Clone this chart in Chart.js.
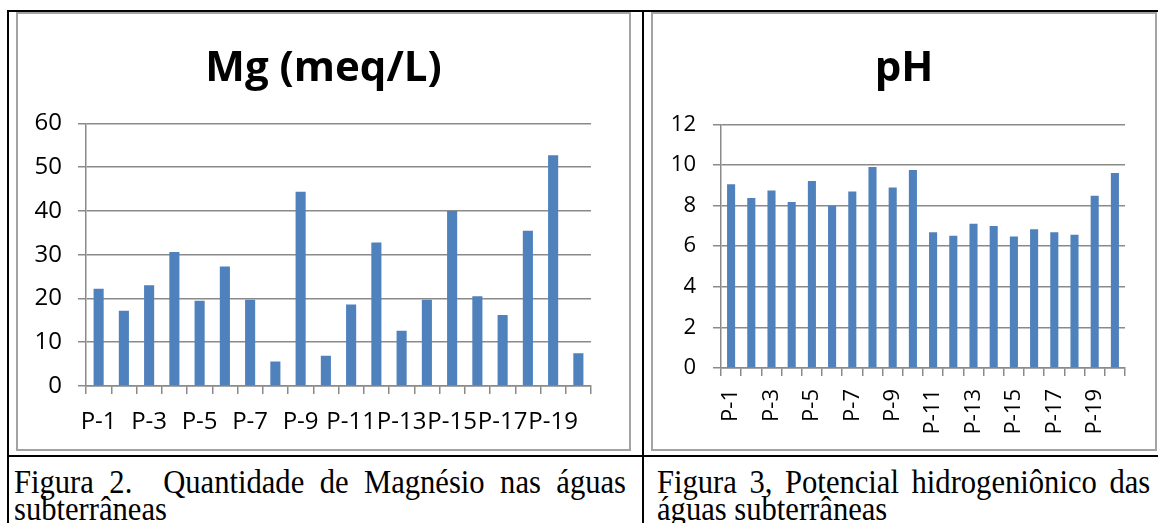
<!DOCTYPE html>
<html>
<head>
<meta charset="utf-8">
<script src="https://cdn.jsdelivr.net/npm/chart.js@4/dist/chart.umd.min.js"></script>
<style>
  html, body { margin: 0; padding: 0; background: #fff; }
  body { width: 1158px; height: 523px; position: relative; overflow: hidden; }
  .line { position: absolute; background: #000; }
  .box { position: absolute; box-sizing: border-box; border: 2px solid #a3a3a3; }
  .box canvas { position: absolute; left: 0; top: 0; }
  .cap { position: absolute; font-family: 'Liberation Serif', 'Times New Roman', serif; font-size: 34px; line-height: 27px; color: #000;
         transform: scaleX(0.9); transform-origin: 0 0; }
  .cap .first { text-align: justify; text-align-last: justify; white-space: nowrap; }
</style>
</head>
<body>
<div class="line" style="left:7px; top:10px; width:1151px; height:2px;"></div>
<div class="line" style="left:7px; top:10px; width:2px; height:513px;"></div>
<div class="line" style="left:642px; top:10px; width:2px; height:513px;"></div>
<div class="line" style="left:7px; top:455px; width:1151px; height:2px;"></div>

<div class="box" style="left:16px; top:12px; width:615px; height:439px;">
  <canvas id="mgChart" width="611" height="435" style="width:611px;height:435px;"></canvas>
</div>
<div class="box" style="left:651px; top:12px; width:506px; height:439px;">
  <canvas id="phChart" width="502" height="435" style="width:502px;height:435px;"></canvas>
</div>

<!-- widths are pre-scale: visible width = width * 0.9 -->
<div class="cap" style="left:14px; top:468px; width:680px;">
  <div class="first">Figura 2.&nbsp; Quantidade de Magnésio nas águas</div>
  <div>subterrâneas</div>
</div>
<div class="cap" style="left:657px; top:468px; width:548px;">
  <div class="first">Figura 3, Potencial hidrogeniônico das</div>
  <div>águas subterrâneas</div>
</div>

<script>
const wells = ['P-1', 'P-2', 'P-3', 'P-4', 'P-5', 'P-6', 'P-7', 'P-8', 'P-9', 'P-10',
  'P-11', 'P-12', 'P-13', 'P-14', 'P-15', 'P-16', 'P-17', 'P-18', 'P-19', 'P-20'];
const mgValues = [22.2, 17.2, 23.0, 30.6, 19.5, 27.3, 19.7, 5.6, 44.4, 6.9,
  18.6, 32.8, 12.6, 19.7, 40.0, 20.5, 16.2, 35.5, 52.7, 7.5];
const phValues = [9.05, 8.38, 8.74, 8.18, 9.21, 7.98, 8.70, 9.90, 8.89, 9.75,
  6.69, 6.51, 7.10, 7.00, 6.48, 6.84, 6.69, 6.57, 8.48, 9.60];
const mgTicks = { min: 0, max: 60, step: 10 };
const phTicks = { min: 0, max: 12, step: 2 };

const gridColor = '#8a8a8a';
const barColor = '#4f81bd';

// keep the title centred on the whole canvas, not just the padded area
const centerTitle = {
  id: 'centerTitle',
  afterLayout(chart) {
    const t = chart.titleBlock;
    if (!t) return;
    t.left = 0;
    t.right = chart.width;
    t.width = chart.width;
  }
};

function makeChart(id, title, values, ticks, opt) {
  return new Chart(document.getElementById(id), {
    type: 'bar',
    data: {
      labels: wells,
      datasets: [{
        data: values,
        backgroundColor: barColor,
        borderWidth: 0,
        barPercentage: 0.4,
        categoryPercentage: 1
      }]
    },
    plugins: [centerTitle],
    options: {
      responsive: false,
      animation: false,
      layout: { padding: { left: 0, right: opt.padRight, top: 0, bottom: 0 } },
      plugins: {
        legend: { display: false },
        tooltip: { enabled: false },
        title: {
          display: true,
          text: title,
          color: '#000',
          font: { family: 'Open Sans', weight: 'bold', size: opt.titleSize, lineHeight: 1.2 },
          padding: { top: opt.titleTop, bottom: opt.titleBottom }
        }
      },
      scales: {
        x: {
          afterFit: s => { s.height = opt.xHeight; },
          grid: { display: true, drawOnChartArea: false, drawTicks: true, tickLength: 8, color: gridColor, lineWidth: 1.5 },
          border: { display: true, color: gridColor, width: 1.5 },
          ticks: {
            autoSkip: false,
            minRotation: opt.rotation,
            maxRotation: opt.rotation,
            padding: opt.xPad,
            color: '#000',
            font: { family: 'Open Sans', size: opt.xFont },
            callback: function (value, index) {
              return index % 2 === 0 ? this.getLabelForValue(value) : '';
            }
          }
        },
        y: {
          min: ticks.min,
          max: ticks.max,
          afterFit: s => { s.width = 68; },
          grid: { color: gridColor, lineWidth: 1.5, tickLength: 8 },
          border: { display: true, color: gridColor, width: 1.5 },
          ticks: {
            stepSize: ticks.step,
            padding: opt.yPad,
            color: '#000',
            font: { family: 'Open Sans', size: opt.yFont }
          }
        }
      }
    }
  });
}

makeChart('mgChart', 'Mg (meq/L)', mgValues, mgTicks, {
  padRight: 38, titleSize: 42, titleTop: 30, titleBottom: 29,
  xHeight: 63, rotation: 0, xPad: 14, xFont: 24, yFont: 24, yPad: 16
});
makeChart('phChart', 'pH', phValues, phTicks, {
  padRight: 28, titleSize: 42, titleTop: 30, titleBottom: 30,
  xHeight: 81, rotation: 90, xPad: 13, xFont: 22, yFont: 22, yPad: 17
});
</script>
</body>
</html>
